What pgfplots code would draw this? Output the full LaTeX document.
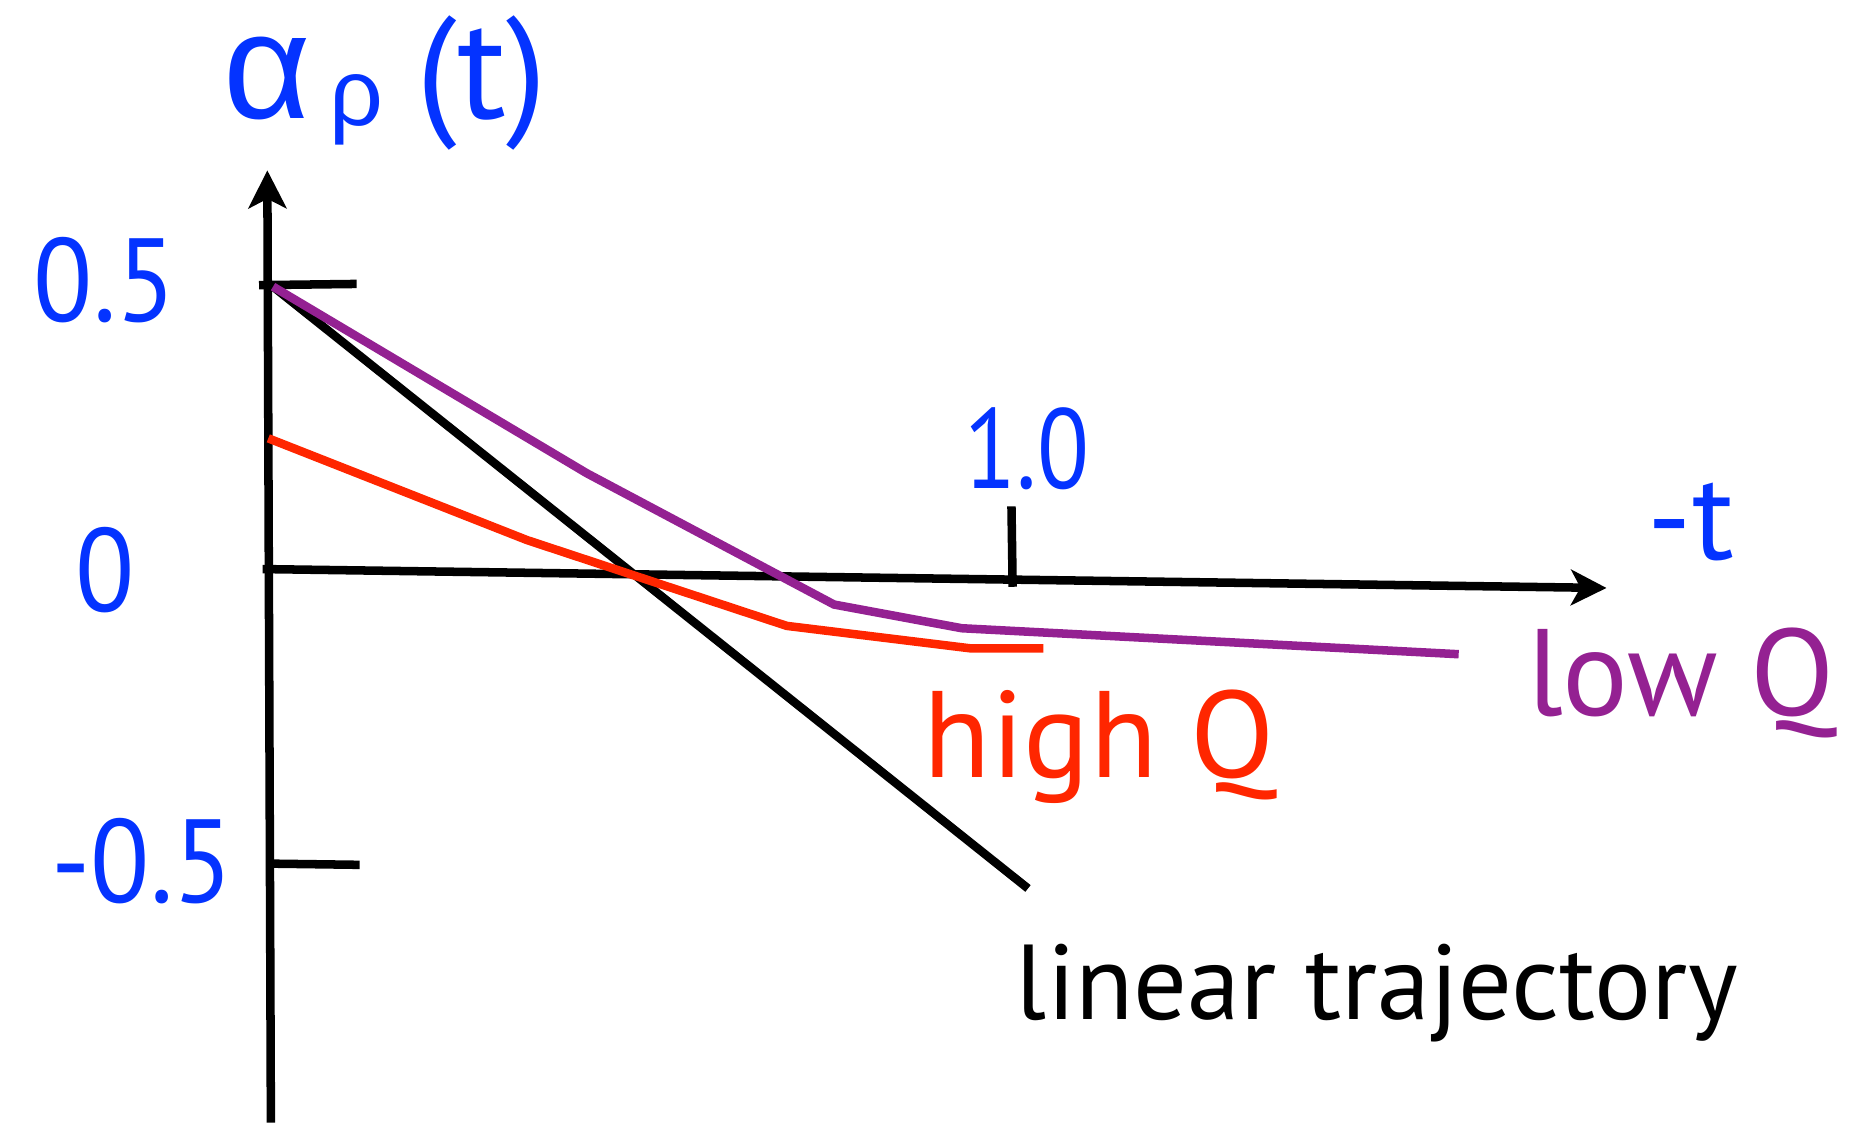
\documentclass[border=0pt]{standalone}
\usepackage{fontspec}
\setmainfont{PT Sans}
\newfontfamily\greekfont{Liberation Sans}
\usepackage{pgfplots}
\pgfplotsset{compat=1.18}
\usetikzlibrary{arrows.meta}
\definecolor{kblue}{HTML}{0433FF}
\definecolor{kred}{HTML}{FF2600}
\definecolor{kpurple}{HTML}{942192}
\begin{document}
\begin{tikzpicture}
\begin{axis}[scale only axis, width=392pt, height=237.25pt,
  xmin=-0.3636, xmax=2.1372, ymin=-0.9588, ymax=0.9938,
  axis line style={draw=none}, ticks=none, clip=false,
  every axis plot/.append style={line width=1.8pt, mark=none}]
\coordinate (bbsw) at (rel axis cs:0,0);
\coordinate (bbne) at (rel axis cs:1,1);
% axes
\addplot[black, -{Stealth[length=8pt,width=8pt,inset=2pt]}] coordinates {(0.0016,-0.9588) (-0.0032,0.6975)};
\addplot[black, -{Stealth[length=7.5pt,width=7.5pt,inset=2pt]}] coordinates {(-0.0096,0.0041) (1.8022,-0.0288)};
% ticks
\addplot[black] coordinates {(-0.0144,0.4979) (0.1172,0.5)};
\addplot[black] coordinates {(0,-0.5082) (0.1212,-0.5103)};
\addplot[black] coordinates {(1.0,0.1132) (1.0016,-0.0267)};
% linear trajectory
\addplot[black] coordinates {(0.0045,0.4953) (1.0223,-0.5514)};
% low Q
\addplot[kpurple] coordinates {(0.0045,0.4953) (0.4274,0.1708) (0.7608,-0.0576) (0.9330,-0.0988) (1.6029,-0.1440)};
% high Q
\addplot[kred] coordinates {(-0.0019,0.2315) (0.3469,0.0545) (0.6970,-0.0947) (0.9442,-0.1337) (1.0431,-0.1337)};
% labels
\node[anchor=base west, inner sep=0, text=kblue, xscale=0.92, font=\fontsize{25}{30}\selectfont] at (axis cs:-0.319,0.434) {0.5};
\node[anchor=base west, inner sep=0, text=kblue, xscale=0.92, font=\fontsize{25}{30}\selectfont] at (axis cs:-0.2632,-0.07) {0};
\node[anchor=base west, inner sep=0, text=kblue, xscale=0.92, font=\fontsize{25}{30}\selectfont] at (axis cs:-0.295,-0.576) {-0.5};
\node[anchor=base west, inner sep=0, text=kblue, xscale=0.84, font=\fontsize{24}{30}\selectfont] at (axis cs:0.9362,0.144) {1.0};
\node[anchor=base west, inner sep=0, text=kblue, font=\fontsize{26}{30}\selectfont] at (axis cs:1.8565,0.0206) {-t};
\node[anchor=base west, inner sep=0, text=kpurple, font=\fontsize{26}{30}\selectfont] at (axis cs:1.6938,-0.251) {low Q};
\node[anchor=base west, inner sep=0, text=kred, font=\fontsize{26}{30}\selectfont] at (axis cs:0.8804,-0.358) {high Q};
\node[anchor=base west, inner sep=0, text=black, font=\fontsize{22.5}{28}\selectfont] at (axis cs:1.0048,-0.7798) {linear trajectory};
\node[anchor=base west, inner sep=0, text=kblue, font=\fontsize{30.5}{33}\selectfont] at (axis cs:-0.0638,0.788)
  {{\greekfont\fontsize{32}{34}\selectfont α}\hspace{4pt}\raisebox{-1.5pt}{\greekfont\fontsize{20}{22}\selectfont ρ}\hspace{7pt}(t)};
\end{axis}
\pgfresetboundingbox
\useasboundingbox (bbsw) rectangle (bbne);
\end{tikzpicture}
\end{document}
